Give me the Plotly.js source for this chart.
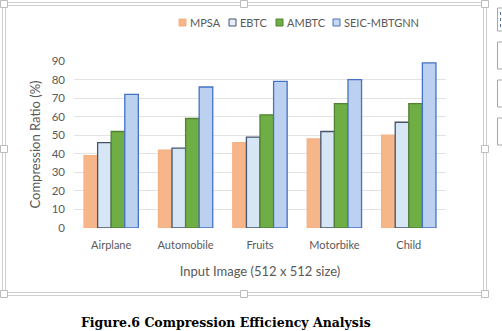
<!DOCTYPE html>
<html>
<head>
<meta charset="utf-8">
<script src="https://cdn.plot.ly/plotly-3.0.1.min.js"></script>
<style>html,body{margin:0;padding:0;background:#fff;}#chart{width:502px;height:331px;}</style>
</head>
<body>
<div id="chart"></div>
<script>
const categories = ["Airplane", "Automobile", "Fruits", "Motorbike", "Child"];
const seriesNames = ["MPSA", "EBTC", "AMBTC", "SEIC-MBTGNN"];
const mpsa = [39, 42, 46, 48, 50];
const ebtc = [46, 43, 49, 52, 57];
const ambtc = [52, 59, 61, 67, 67];
const seic = [72, 76, 79, 80, 89];
const yTicks = [0, 10, 20, 30, 40, 50, 60, 70, 80, 90];

const fills = ["#f7b68a", "#d6e6f5", "#6fae45", "#bcd0f0"];
const lines = ["#f4b183", "#44546a", "#548235", "#4472c4"];
const values = [mpsa, ebtc, ambtc, seic];

const traces = values.map((v, i) => ({
  type: "bar",
  name: seriesNames[i],
  x: categories,
  y: v,
  marker: {color: fills[i], line: {color: lines[i], width: 1.3}},
  hoverinfo: "skip",
  showlegend: false
}));

const fontFam = "Lato, 'Open Sans', sans-serif";
const grey = "#595959";

// plot area in pixels: x 74..446, y 61..228
const PL = 74, PR = 446, PT = 61, PB = 228;
const P = x => (x - PL) / (PR - PL);
const Q = y => (PB - y) / (PB - PT);

const shapes = [];
const annotations = [];

// frame (double line, like a selected chart)
const frameLine = "#cfcfcf";
shapes.push({type: "rect", xref: "paper", yref: "paper", x0: P(2.5), x1: P(486.5), y0: Q(295.5), y1: Q(2.5),
  line: {color: frameLine, width: 1}, fillcolor: "rgba(0,0,0,0)", layer: "below"});
shapes.push({type: "rect", xref: "paper", yref: "paper", x0: P(5.5), x1: P(483.5), y0: Q(292.5), y1: Q(5.5),
  line: {color: frameLine, width: 1}, fillcolor: "rgba(0,0,0,0)", layer: "below"});
// handles
const hx = [4, 244, 485], hy = [4, 149, 294];
hx.forEach(x => hy.forEach(y => {
  if (x === 244 && y === 149) return;
  shapes.push({type: "rect", xref: "paper", yref: "paper", x0: P(x - 3.5), x1: P(x + 3.5), y0: Q(y + 3.5), y1: Q(y - 3.5),
    line: {color: "#bdbdbd", width: 1}, fillcolor: "#ffffff"});
}));
// side buttons (partially visible)
[[8, 31], [42, 69], [80, 107], [118, 145]].forEach(([a, b]) => {
  shapes.push({type: "rect", xref: "paper", yref: "paper", x0: P(497.5), x1: P(510), y0: Q(b), y1: Q(a),
    line: {color: "#a6a6a6", width: 1}, fillcolor: "#ffffff"});
});
shapes.push({type: "line", xref: "paper", yref: "paper", x0: P(500.5), x1: P(500.5), y0: Q(27), y1: Q(11),
  line: {color: "#4a6fb5", width: 1, dash: "dot"}});

// legend (manual)
const legX = [179, 229, 276, 333];
const legBorder = ["#f4b183", "#44546a", "#548235", "#4472c4"];
const legFill = ["#f7b68a", "#e6eff9", "#6fae45", "#c9d8f2"];
seriesNames.forEach((n, i) => {
  shapes.push({type: "rect", xref: "paper", yref: "paper", x0: P(legX[i]), x1: P(legX[i] + 7), y0: Q(26), y1: Q(19),
    line: {color: legBorder[i], width: 1}, fillcolor: legFill[i]});
  annotations.push({xref: "paper", yref: "paper", x: P(legX[i] + 9), y: Q(22.5), xanchor: "left", yanchor: "middle",
    showarrow: false, text: n, font: {family: fontFam, size: 11, color: grey}});
});

annotations.push({xref: "paper", yref: "paper", x: P(226), y: Q(322), xanchor: "center", yanchor: "middle",
  showarrow: false, text: "<b>Figure.6 Compression Efficiency Analysis</b>",
  font: {family: "'DejaVu Serif', serif", size: 12.5, color: "#000000"}});

const layout = {
  width: 502, height: 331,
  margin: {l: PL, r: 502 - PR, t: PT, b: 331 - PB},
  paper_bgcolor: "#ffffff",
  plot_bgcolor: "#ffffff",
  font: {family: fontFam, size: 11, color: grey},
  barmode: "group",
  bargap: 0.27,
  bargroupgap: 0,
  showlegend: false,
  xaxis: {
    type: "category",
    showgrid: false, zeroline: false, showline: false, ticks: "",
    ticklabelstandoff: 9,
    tickfont: {family: fontFam, size: 11, color: grey},
    title: {text: "Input Image (512 x 512 size)", font: {family: fontFam, size: 13, color: grey}, standoff: 16}
  },
  yaxis: {
    range: [0, 90],
    tickvals: yTicks,
    ticktext: yTicks.map(String),
    showgrid: true, gridcolor: "#e3e3e3", gridwidth: 1,
    zeroline: false, showline: false, ticks: "",
    ticklabelstandoff: 8,
    tickfont: {family: fontFam, size: 11.5, color: grey},
    title: {text: "Compression Ratio (%)", font: {family: fontFam, size: 13, color: grey}, standoff: 8}
  },
  shapes: shapes,
  annotations: annotations
};

Plotly.newPlot("chart", traces, layout, {displayModeBar: false, staticPlot: true});
</script>
</body>
</html>
